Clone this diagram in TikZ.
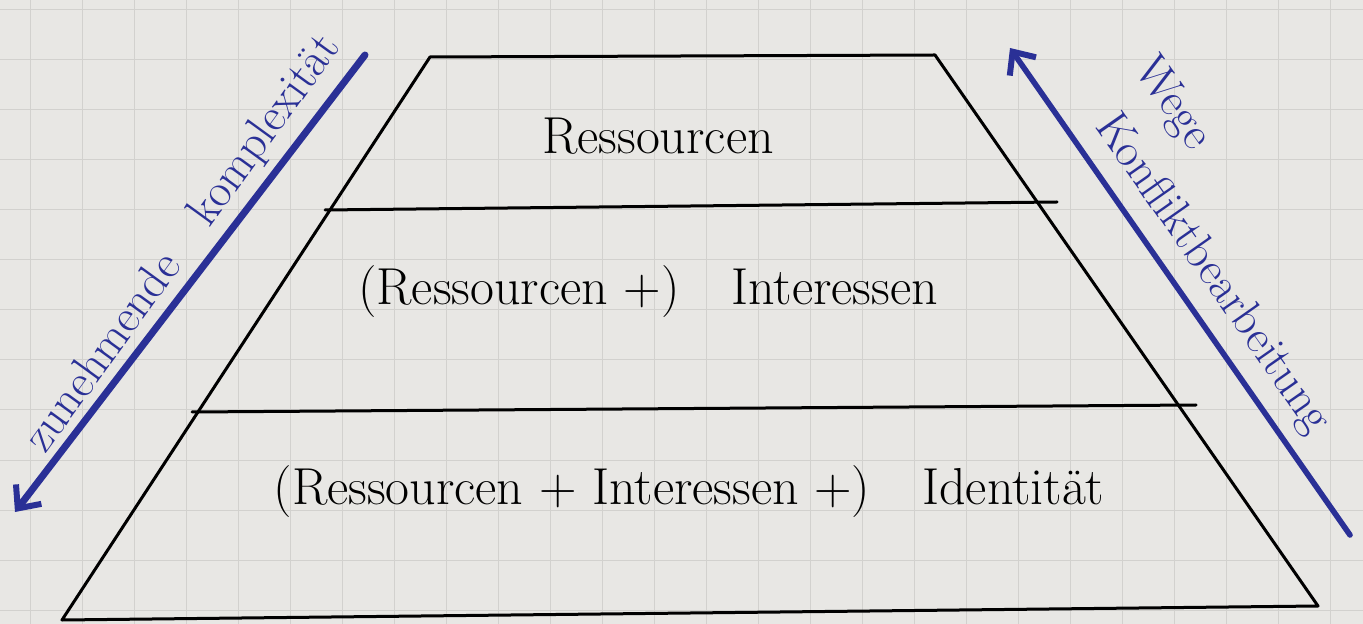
\documentclass[tikz,border=0pt]{standalone}
\usetikzlibrary{arrows.meta}
\definecolor{paper}{RGB}{232,231,228}
\definecolor{gridc}{RGB}{210,209,206}
\definecolor{pen}{RGB}{42,48,150}
\tikzset{
  edge/.style={line width=1.5pt, black, line join=round, line cap=round},
  layertext/.style={font=\fontsize{26}{30}\selectfont, inner sep=0pt},
  sidetext/.style={font=\fontsize{23.5}{28}\selectfont, text=pen, inner sep=0pt},
  penarrow/.style={draw=pen, line width=3.5pt, line cap=round,
    -{Straight Barb[length=9pt,width=16pt,line width=3pt]}}
}
\begin{document}
\begin{tikzpicture}[x=0.5pt,y=-0.5pt]
\path[use as bounding box, fill=paper] (0,0) rectangle (1363,624);
% faint grid paper
\foreach \yy in {10,60,...,610} \draw[gridc, line width=0.5pt] (0,\yy) -- (1363,\yy);
\foreach \xx in {30,82,...,1363} \draw[gridc, line width=0.5pt] (\xx,0) -- (\xx,624);

% pyramid corners and layer ends
\coordinate (tl) at (430,57);
\coordinate (tr) at (935,55);
\coordinate (m1l) at (325,210);
\coordinate (m1r) at (1057,202);
\coordinate (m2l) at (192,412);
\coordinate (m2r) at (1196,405);
\coordinate (bl) at (62,620);
\coordinate (br) at (1318,606);

\draw[edge] (tl) -- (tr) -- (br) -- (bl) -- cycle;
\draw[edge] (m1l) -- (m1r);
\draw[edge] (m2l) -- (m2r);

\node[layertext] (res) at (658,136) {Ressourcen};
\node[layertext] (int) at (648,292) {(Ressourcen +)\quad Interessen};
\node[layertext] (ide) at (689,492) {(Ressourcen + Interessen +)\quad Identit\"at};

% left arrow
\coordinate (la1) at (365,55);
\coordinate (la2) at (15,512);
\draw[penarrow] (la1) -- (la2);
\node[sidetext, rotate=54] (komp) at (184,244) {zunehmende\quad komplexit\"at};

% right arrow
\coordinate (ra1) at (1350,535);
\coordinate (ra2) at (1010,48);
\draw[penarrow, line width=2.8pt] (ra1) -- (ra2);
\node[sidetext, rotate=-55] (wege) at (1172,104) {Wege};
\node[sidetext, rotate=-55] (konf) at (1212,274) {Konfliktbearbeitung};
\end{tikzpicture}
\end{document}
